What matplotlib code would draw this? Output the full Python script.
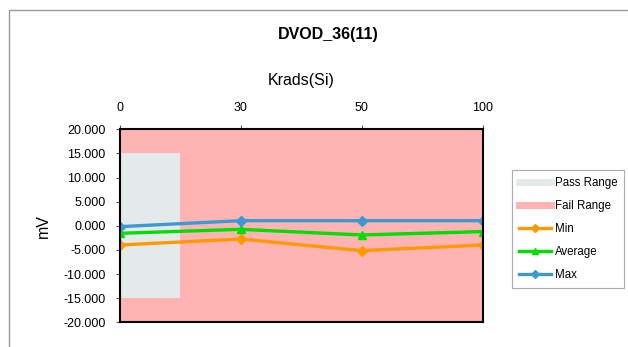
import matplotlib.pyplot as plt
from matplotlib.lines import Line2D
from matplotlib.patches import Rectangle

plt.rcParams['font.family'] = ['Liberation Sans', 'DejaVu Sans']

doses = ['0', '30', '50', '100']
min_vals = [-3.98, -2.74, -5.15, -3.98]
avg_vals = [-1.56, -0.73, -1.90, -1.20]
max_vals = [-0.18, 1.06, 1.06, 1.06]
pass_range = (-15.0, 15.0)
fail_range = (-20.0, 20.0)

W, H = 628, 347
fig = plt.figure(figsize=(W / 100, H / 100), dpi=100)
ax = fig.add_axes([119.5 / W, 1 - 322.3 / H, 363.2 / W, 193 / H])

x = list(range(len(doses)))

# background bands
ax.fill_between([x[0], x[-1]], fail_range[0], fail_range[1],
                color='#FFB3B3', lw=0, zorder=0)
ax.bar(x[0], pass_range[1] - pass_range[0], bottom=pass_range[0], width=1.0,
       color='#E4EAEA', lw=0, zorder=1)

ax.plot(x, min_vals, color='#FF9900', lw=2.4, marker='D', ms=5, zorder=3)
ax.plot(x, avg_vals, color='#00DD00', lw=2.4, marker='^', ms=6, zorder=3)
ax.plot(x, max_vals, color='#3D9AD1', lw=2.4, marker='D', ms=5, zorder=3)

ax.set_xlim(0, 3)
ax.set_ylim(-20, 20)
ax.set_yticks(range(-20, 21, 5))
ax.set_yticklabels([f'{v:.3f}' for v in range(-20, 21, 5)], fontsize=9)
ax.set_xticks(x)
ax.set_xticklabels(doses, fontsize=9)
ax.xaxis.tick_top()
ax.xaxis.set_label_position('top')
ax.tick_params(axis='both', length=3, width=0.8, color='#555555')
ax.tick_params(axis='y', pad=7)
ax.tick_params(axis='x', pad=8)
for s in ax.spines.values():
    s.set_linewidth(1.5)
    s.set_color('black')
    s.set_zorder(5)

ax.set_xlabel('Krads(Si)', fontsize=11.5, labelpad=12)
ax.set_ylabel('mV', fontsize=11.5, labelpad=9)
fig.text(328 / W, 1 - 35 / H, 'DVOD_36(11)', fontsize=11.5, fontweight='bold',
         ha='center', va='center')

handles = [
    Line2D([], [], color='#E4EAEA', lw=5),
    Line2D([], [], color='#FFB3B3', lw=5),
    Line2D([], [], color='#FF9900', lw=2.4, marker='D', ms=4),
    Line2D([], [], color='#00DD00', lw=2.4, marker='^', ms=5),
    Line2D([], [], color='#3D9AD1', lw=2.4, marker='D', ms=4),
]
labels = ['Pass Range', 'Fail Range', 'Min', 'Average', 'Max']
leg = fig.legend(handles, labels, loc='upper left',
                 bbox_to_anchor=(512 / W, 1 - 170 / H),
                 fontsize=8.3, frameon=True, fancybox=False,
                 edgecolor='#999999', handlelength=2.8, handletextpad=0.3,
                 labelspacing=0.95, borderpad=0.6, borderaxespad=0)
leg.get_frame().set_linewidth(0.8)

# outer chart frame
fig.patches.append(Rectangle((8.5 / W, -0.1), 1.0, 1 - 10.5 / H + 0.1,
                             transform=fig.transFigure, fill=False,
                             edgecolor='#999999', lw=1.0))

fig.savefig('out.png', dpi=100)
